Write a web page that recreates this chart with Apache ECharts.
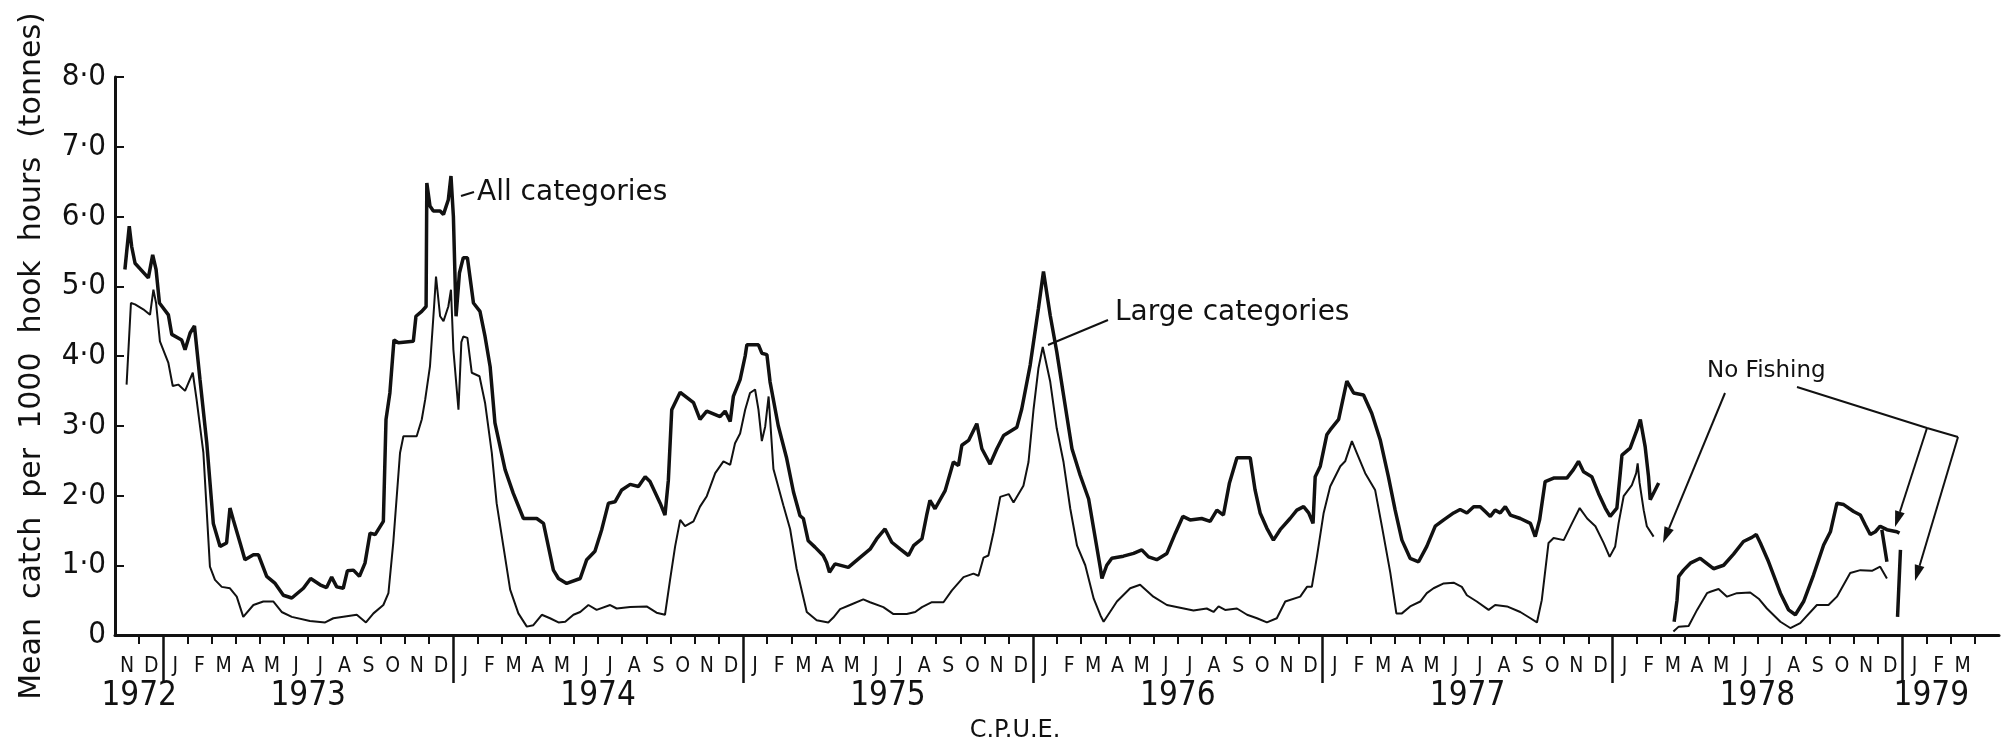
<!DOCTYPE html>
<html>
<head>
<meta charset="utf-8">
<title>C.P.U.E.</title>
<script src="https://cdn.jsdelivr.net/npm/echarts@6.0.0/dist/echarts.min.js"></script>
<style>
  html, body { margin: 0; padding: 0; background: #fff; }
  #chart { width: 2003px; height: 742px; }
</style>
</head>
<body>
<div id="chart"></div>
<script>
// x = months since 1 Nov 1972, y = tonnes per 1000 hook hours
var monthLetters = ['N', 'D'];
for (var y = 0; y < 6; y++) monthLetters = monthLetters.concat(['J','F','M','A','M','J','J','A','S','O','N','D']);
monthLetters = monthLetters.concat(['J', 'F', 'M', '']);

var yearNames = ['1972', '1973', '1974', '1975', '1976', '1977', '1978', '1979'];
var yearCentres = [1, 8, 20, 32, 44, 56, 68, 75.2];
var yearTicks = [2, 14, 26, 38, 50, 62, 74];
var monthTicks = [];
for (var m = 1; m < 78; m++) if (yearTicks.indexOf(m) < 0) monthTicks.push(m);

var allCategories = [
  [0.41,5.24],[0.59,5.86],[0.69,5.57],[0.83,5.33],[1.38,5.12],[1.56,5.45],[1.70,5.24],[1.84,4.76],[2.21,4.59],[2.35,4.31],
  [2.76,4.23],[2.90,4.09],[3.11,4.33],[3.29,4.43],[3.52,3.66],[3.80,2.75],[4.07,1.60],[4.35,1.27],[4.62,1.32],[4.76,1.82],
  [4.90,1.65],[5.18,1.32],[5.38,1.08],[5.73,1.15],[5.94,1.15],[6.28,0.84],[6.63,0.74],[6.97,0.57],[7.32,0.53],[7.80,0.67],
  [8.10,0.81],[8.49,0.72],[8.76,0.68],[8.97,0.83],[9.18,0.69],[9.45,0.67],[9.62,0.92],[9.87,0.93],[10.12,0.84],[10.35,1.03],
  [10.56,1.46],[10.77,1.44],[11.11,1.63],[11.22,3.09],[11.38,3.47],[11.55,4.23],[11.73,4.19],[12.35,4.21],[12.46,4.57],[12.70,4.64],
  [12.88,4.71],[12.91,6.48],[13.04,6.15],[13.18,6.08],[13.46,6.08],[13.60,6.03],[13.80,6.24],[13.91,6.58],[14.01,6.00],[14.12,4.57],
  [14.26,5.19],[14.42,5.41],[14.59,5.41],[14.84,4.76],[15.11,4.64],[15.32,4.28],[15.53,3.85],[15.73,3.04],[16.15,2.37],[16.49,2.03],
  [16.63,1.91],[16.91,1.67],[17.46,1.67],[17.74,1.60],[18.15,0.93],[18.36,0.81],[18.70,0.74],[19.26,0.81],[19.53,1.08],[19.87,1.20],
  [20.15,1.51],[20.43,1.89],[20.70,1.91],[20.98,2.08],[21.33,2.16],[21.67,2.13],[21.95,2.27],[22.15,2.20],[22.57,1.89],[22.77,1.72],
  [22.91,2.22],[23.05,3.23],[23.40,3.48],[23.95,3.33],[24.22,3.09],[24.50,3.21],[25.05,3.13],[25.26,3.21],[25.47,3.06],[25.60,3.42],
  [25.88,3.66],[26.09,4.00],[26.16,4.16],[26.64,4.16],[26.78,4.04],[26.99,4.02],[27.12,3.63],[27.46,3.00],[27.81,2.53],[28.09,2.05],
  [28.36,1.71],[28.50,1.67],[28.70,1.35],[28.98,1.26],[29.32,1.14],[29.46,1.04],[29.58,0.90],[29.81,1.02],[30.36,0.97],[30.84,1.11],
  [31.26,1.23],[31.54,1.38],[31.88,1.52],[32.16,1.33],[32.51,1.23],[32.85,1.14],[33.06,1.28],[33.41,1.38],[33.60,1.71],[33.74,1.93],
  [33.95,1.81],[34.37,2.07],[34.71,2.48],[34.92,2.43],[35.06,2.72],[35.34,2.79],[35.68,3.03],[35.89,2.67],[36.23,2.45],[36.51,2.67],
  [36.79,2.86],[37.34,2.98],[37.54,3.24],[37.89,3.87],[38.23,4.68],[38.44,5.21],[38.72,4.58],[38.99,4.06],[39.27,3.44],[39.62,2.67],
  [39.96,2.29],[40.31,1.95],[40.52,1.52],[40.80,0.95],[40.86,0.81],[41.06,1.00],[41.27,1.10],[41.75,1.13],[42.17,1.17],[42.51,1.22],
  [42.79,1.12],[43.13,1.08],[43.55,1.17],[43.90,1.46],[44.21,1.70],[44.51,1.65],[44.99,1.67],[45.34,1.63],[45.62,1.79],[45.89,1.72],
  [46.14,2.18],[46.45,2.54],[47.00,2.54],[47.20,2.08],[47.41,1.75],[47.69,1.53],[47.96,1.36],[48.24,1.51],[48.65,1.67],[48.93,1.79],
  [49.21,1.84],[49.42,1.75],[49.60,1.60],[49.69,2.27],[49.90,2.42],[50.17,2.87],[50.31,2.94],[50.66,3.09],[51.00,3.64],[51.28,3.47],
  [51.69,3.44],[52.03,3.18],[52.38,2.80],[52.72,2.27],[53.00,1.79],[53.28,1.36],[53.62,1.10],[53.97,1.05],[54.31,1.27],[54.66,1.56],
  [55.01,1.65],[55.42,1.75],[55.69,1.80],[55.97,1.75],[56.25,1.84],[56.52,1.84],[56.73,1.77],[56.94,1.70],[57.14,1.79],[57.35,1.75],
  [57.56,1.84],[57.77,1.72],[58.18,1.67],[58.60,1.60],[58.80,1.41],[58.98,1.65],[59.21,2.20],[59.56,2.25],[60.11,2.25],[60.38,2.37],
  [60.59,2.49],[60.80,2.34],[61.14,2.27],[61.42,2.03],[61.70,1.82],[61.90,1.70],[62.18,1.82],[62.32,2.32],[62.39,2.58],[62.73,2.68],
  [63.01,2.94],[63.15,3.09],[63.35,2.70],[63.49,2.27],[63.56,1.94],[63.91,2.18],
  null,
  [64.55,0.19],[64.67,0.50],[64.74,0.84],[64.94,0.93],[65.22,1.03],[65.63,1.10],[66.18,0.95],[66.60,1.00],[67.01,1.16],[67.42,1.34],
  [67.77,1.40],[67.95,1.44],[68.12,1.32],[68.46,1.05],[68.95,0.60],[69.29,0.36],[69.57,0.29],[69.91,0.48],[70.32,0.86],[70.74,1.29],
  [71.02,1.48],[71.29,1.89],[71.57,1.87],[71.98,1.77],[72.26,1.72],[72.46,1.58],[72.67,1.44],[72.88,1.48],[73.08,1.56],[73.36,1.51],
  [73.77,1.48],[73.88,1.46],
  null,
  [73.15,1.51],[73.36,1.05],
  null,
  [73.92,1.22],[73.80,0.26]
];

var largeCategories = [
  [0.48,3.59],[0.66,4.76],[0.83,4.74],[1.17,4.67],[1.45,4.59],[1.59,4.95],[1.70,4.76],[1.86,4.21],[2.21,3.90],[2.39,3.57],
  [2.62,3.59],[2.90,3.50],[3.22,3.76],[3.38,3.37],[3.66,2.61],[3.93,0.98],[4.14,0.79],[4.42,0.69],[4.76,0.67],[5.04,0.55],
  [5.31,0.26],[5.73,0.43],[6.14,0.48],[6.56,0.48],[6.90,0.33],[7.32,0.26],[8.07,0.20],[8.70,0.18],[9.04,0.24],[10.01,0.29],
  [10.39,0.18],[10.70,0.31],[11.11,0.43],[11.32,0.60],[11.52,1.32],[11.80,2.61],[11.94,2.85],[12.49,2.85],[12.70,3.09],[12.84,3.37],
  [13.04,3.85],[13.21,4.71],[13.29,5.14],[13.46,4.57],[13.60,4.50],[13.80,4.71],[13.91,4.95],[14.01,4.09],[14.22,3.23],[14.34,4.20],
  [14.42,4.28],[14.59,4.26],[14.77,3.76],[15.09,3.71],[15.32,3.33],[15.60,2.61],[15.80,1.89],[16.08,1.27],[16.36,0.65],[16.70,0.31],
  [17.05,0.12],[17.32,0.14],[17.67,0.29],[18.01,0.24],[18.36,0.18],[18.64,0.19],[18.98,0.29],[19.26,0.33],[19.60,0.43],[19.94,0.36],
  [20.50,0.43],[20.77,0.38],[21.33,0.40],[22.01,0.41],[22.42,0.32],[22.77,0.29],[22.98,0.79],[23.19,1.27],[23.40,1.65],[23.60,1.56],
  [23.95,1.63],[24.22,1.84],[24.50,1.99],[24.85,2.32],[25.19,2.49],[25.47,2.44],[25.67,2.75],[25.88,2.89],[26.09,3.23],[26.29,3.47],
  [26.50,3.52],[26.64,3.23],[26.78,2.78],[26.92,2.99],[27.06,3.42],[27.26,2.38],[27.67,1.86],[27.95,1.52],[28.22,0.95],[28.64,0.33],
  [29.05,0.21],[29.53,0.18],[29.74,0.25],[30.02,0.37],[30.43,0.43],[30.98,0.51],[31.26,0.47],[31.81,0.40],[32.23,0.30],[32.78,0.30],
  [33.13,0.33],[33.41,0.40],[33.82,0.47],[34.30,0.47],[34.65,0.64],[35.13,0.83],[35.54,0.88],[35.75,0.85],[35.96,1.11],[36.16,1.14],
  [36.37,1.47],[36.65,1.98],[37.00,2.02],[37.20,1.90],[37.61,2.14],[37.82,2.48],[38.03,3.24],[38.23,3.82],[38.41,4.13],[38.72,3.63],
  [38.99,2.96],[39.27,2.48],[39.55,1.81],[39.83,1.28],[40.17,1.00],[40.52,0.52],[40.80,0.28],[40.93,0.19],[41.48,0.48],[42.03,0.67],
  [42.44,0.72],[42.99,0.55],[43.55,0.43],[44.10,0.39],[44.65,0.35],[45.20,0.38],[45.48,0.33],[45.69,0.41],[45.96,0.36],[46.45,0.38],
  [46.87,0.29],[47.28,0.24],[47.69,0.18],[48.10,0.24],[48.45,0.48],[49.07,0.55],[49.35,0.69],[49.55,0.69],[49.76,1.12],[50.04,1.75],
  [50.31,2.13],[50.73,2.42],[50.93,2.49],[51.21,2.78],[51.41,2.61],[51.76,2.32],[52.17,2.08],[52.45,1.56],[52.80,0.89],[53.05,0.31],
  [53.28,0.31],[53.62,0.41],[54.04,0.48],[54.31,0.60],[54.59,0.67],[55.01,0.74],[55.42,0.75],[55.76,0.69],[55.97,0.57],[56.38,0.48],
  [56.87,0.36],[57.14,0.43],[57.63,0.41],[58.18,0.33],[58.60,0.24],[58.87,0.18],[59.07,0.50],[59.35,1.32],[59.56,1.39],[59.98,1.36],
  [60.32,1.60],[60.64,1.82],[60.95,1.67],[61.29,1.56],[61.63,1.32],[61.88,1.12],[62.11,1.27],[62.25,1.60],[62.46,1.99],[62.80,2.15],
  [62.98,2.32],[63.04,2.46],[63.12,2.18],[63.29,1.79],[63.42,1.56],[63.70,1.41],
  null,
  [64.52,0.05],[64.74,0.12],[65.15,0.13],[65.50,0.36],[65.91,0.60],[66.05,0.62],[66.39,0.66],[66.74,0.55],[67.15,0.60],[67.70,0.61],
  [68.05,0.52],[68.39,0.38],[68.95,0.19],[69.36,0.10],[69.77,0.17],[70.46,0.43],[70.94,0.43],[71.29,0.55],[71.84,0.89],[72.26,0.93],
  [72.74,0.92],[73.08,0.98],[73.36,0.81]
];

var INK = '#111';
var NARROW = "'Liberation Sans Narrow', 'DejaVu Sans Condensed', sans-serif";
var SANS = "'DejaVu Sans', sans-serif";

function arrow(x1, y1, x2, y2) {
  var dx = x2 - x1, dy = y2 - y1, d = Math.sqrt(dx * dx + dy * dy);
  var ux = dx / d, uy = dy / d, len = 16, w = 5;
  var bx = x2 - ux * len, by = y2 - uy * len;
  return [
    { type: 'line', shape: { x1: x1, y1: y1, x2: bx, y2: by }, style: { stroke: INK, lineWidth: 2 } },
    { type: 'polygon', shape: { points: [[x2, y2], [bx - uy * w, by + ux * w], [bx + uy * w, by - ux * w]] }, style: { fill: INK } }
  ];
}

var chart = echarts.init(document.getElementById('chart'));

var graphics = [
  { type: 'line', shape: { x1: 461, y1: 196, x2: 474, y2: 192 }, style: { stroke: INK, lineWidth: 2 } },
  { type: 'text', x: 477, y: 193, style: { text: 'All categories', fontSize: 28, fontFamily: SANS, fill: INK, textAlign: 'left', textVerticalAlign: 'middle' } },
  { type: 'line', shape: { x1: 1048, y1: 345, x2: 1108, y2: 320 }, style: { stroke: INK, lineWidth: 2 } },
  { type: 'text', x: 1115, y: 313, style: { text: 'Large categories', fontSize: 28, fontFamily: SANS, fill: INK, textAlign: 'left', textVerticalAlign: 'middle' } },
  { type: 'text', x: 1707, y: 371, style: { text: 'No Fishing', fontSize: 23, fontFamily: SANS, fill: INK, textAlign: 'left', textVerticalAlign: 'middle' } },
  { type: 'polyline', shape: { points: [[1797, 387], [1927, 428], [1958, 437]] }, style: { stroke: INK, lineWidth: 2, fill: null } },
  { type: 'text', x: 1015, y: 731, style: { text: 'C.P.U.E.', fontSize: 24, fontFamily: SANS, fill: INK, textAlign: 'center', textVerticalAlign: 'middle' } }
].concat(arrow(1725, 393, 1663, 543), arrow(1927, 428, 1895, 527), arrow(1958, 437, 1915, 581));

chart.setOption({
  animation: false,
  backgroundColor: '#fff',
  grid: { left: 115, right: 4, top: 77, bottom: 107, containLabel: false, outerBoundsMode: 'none' },
  xAxis: [
    {
      // month ticks and the axis line
      type: 'value', min: 0, max: 78, position: 'bottom',
      axisLine: { lineStyle: { color: INK, width: 3 } },
      axisTick: { customValues: monthTicks, length: 9, lineStyle: { color: INK, width: 2 } },
      axisLabel: { show: false },
      splitLine: { show: false }
    },
    {
      // year dividers and year labels
      type: 'value', min: 0, max: 78, position: 'bottom',
      axisLine: { show: false },
      axisTick: { customValues: yearTicks, length: 48, lineStyle: { color: INK, width: 2.5 } },
      axisLabel: {
        customValues: yearCentres, margin: 45, fontSize: 33, fontFamily: NARROW, color: INK,
        formatter: function (v) { return yearNames[yearCentres.indexOf(v)]; }
      },
      splitLine: { show: false }
    },
    {
      // month initials
      type: 'category', data: monthLetters, boundaryGap: true, position: 'bottom',
      axisLine: { show: false },
      axisTick: { show: false },
      axisLabel: { interval: 0, margin: 21, fontSize: 21, fontFamily: NARROW, color: INK }
    }
  ],
  yAxis: {
    type: 'value', min: 0, max: 8, interval: 1,
    name: 'Mean  catch  per  1000  hook  hours  (tonnes)',
    nameLocation: 'middle', nameRotate: 90, nameGap: 68,
    nameTextStyle: { fontSize: 30, fontFamily: SANS, color: INK },
    axisLine: { show: true, lineStyle: { color: INK, width: 3 } },
    axisTick: { show: true, inside: true, length: 9, lineStyle: { color: INK, width: 2 } },
    axisLabel: {
      margin: 9, fontSize: 31, fontFamily: NARROW, color: INK,
      formatter: function (v) { return v === 0 ? '0' : v.toFixed(1).replace('.', '\u00b7'); }
    },
    splitLine: { show: false }
  },
  series: [
    {
      name: 'All categories', type: 'line', data: allCategories,
      showSymbol: false, connectNulls: false,
      lineStyle: { color: INK, width: 3.5 }
    },
    {
      name: 'Large categories', type: 'line', data: largeCategories,
      showSymbol: false, connectNulls: false,
      lineStyle: { color: INK, width: 2 }
    }
  ],
  graphic: graphics
});
</script>
</body>
</html>
